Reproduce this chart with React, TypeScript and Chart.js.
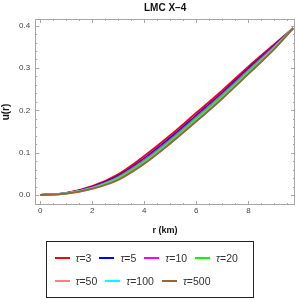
import React, { useEffect, useRef } from "react";
import { Chart, registerables } from "chart.js";

Chart.register(...registerables);

const titleText = "LMC X–4";
const xTitle = "r (km)";
const yTitle = "u(r)";

const radius = [0, 1, 2, 3, 4, 5, 6, 7, 8, 9, 9.72];
const tauLabels = ["3", "5", "10", "20", "50", "100", "500"];
const colors = ["#ff0000", "#0000ff", "#ff00ff", "#00ff00", "#ff8080", "#00ffff", "#996633"];

const uTau3 = [0, 0.005, 0.021, 0.049, 0.092, 0.141, 0.194, 0.247, 0.303, 0.356, 0.394];
const uTau5 = [0, 0.0045, 0.019, 0.045, 0.086, 0.135, 0.188, 0.241, 0.298, 0.353, 0.394];
const uTau10 = [0, 0.0042, 0.018, 0.043, 0.083, 0.131, 0.184, 0.238, 0.295, 0.351, 0.394];
const uTau20 = [0, 0.004, 0.017, 0.041, 0.08, 0.128, 0.181, 0.235, 0.292, 0.349, 0.394];
const uTau50 = [0, 0.0037, 0.016, 0.038, 0.076, 0.124, 0.176, 0.23, 0.288, 0.347, 0.394];
const uTau100 = [0, 0.0036, 0.0155, 0.037, 0.075, 0.123, 0.175, 0.229, 0.287, 0.346, 0.394];
const uTau500 = [0, 0.0035, 0.015, 0.036, 0.074, 0.122, 0.174, 0.228, 0.286, 0.345, 0.394];
const series = [uTau3, uTau5, uTau10, uTau20, uTau50, uTau100, uTau500];

const xTickValues = [0, 2, 4, 6, 8];
const yTickValues = [0, 0.1, 0.2, 0.3, 0.4];
const xMinorStep = 0.5;
const yMinorStep = 0.02;

const FONT = "'Liberation Sans', Arial, sans-serif";

const frameTicks = {
  id: "frameTicks",
  beforeDatasetsDraw(chart: any) {
    const { ctx, chartArea: a, scales } = chart;
    const x = scales.x;
    const y = scales.y;
    ctx.save();
    ctx.strokeStyle = "#a8a8a8";
    ctx.lineWidth = 1;
    ctx.strokeRect(Math.round(a.left) + 0.5, Math.round(a.top) + 0.5, Math.round(a.width) - 1, Math.round(a.height) - 1);
    ctx.beginPath();
    const xMin = x.min, xMax = x.max, yMin = y.min, yMax = y.max;
    for (let k = Math.ceil(xMin / xMinorStep); k * xMinorStep <= xMax; k++) {
      const v = k * xMinorStep;
      const major = xTickValues.some((t) => Math.abs(t - v) < 1e-9);
      const len = major ? 4 : 2;
      const px = Math.round(x.getPixelForValue(v)) + 0.5;
      ctx.moveTo(px, a.bottom);
      ctx.lineTo(px, a.bottom - len);
      ctx.moveTo(px, a.top);
      ctx.lineTo(px, a.top + len);
    }
    for (let k = Math.ceil(yMin / yMinorStep); k * yMinorStep <= yMax + 1e-9; k++) {
      const v = k * yMinorStep;
      const major = yTickValues.some((t) => Math.abs(t - v) < 1e-9);
      const len = major ? 4 : 2;
      const py = Math.round(y.getPixelForValue(v)) + 0.5;
      ctx.moveTo(a.left, py);
      ctx.lineTo(a.left + len, py);
      ctx.moveTo(a.right, py);
      ctx.lineTo(a.right - len, py);
    }
    ctx.stroke();
    ctx.restore();
  },
};

export default function App() {
  const canvasRef = useRef<HTMLCanvasElement | null>(null);

  useEffect(() => {
    if (!canvasRef.current) return;
    const datasets = series.map((vals, i) => ({
      label: "τ=" + tauLabels[i],
      data: vals.map((v, j) => ({ x: radius[j], y: v })),
      borderColor: colors[i],
      backgroundColor: colors[i],
      borderWidth: 2,
      pointRadius: 0,
      cubicInterpolationMode: "monotone" as const,
      fill: false,
      order: series.length - i,
    }));
    const chart = new Chart(canvasRef.current, {
      type: "line",
      data: { datasets },
      plugins: [frameTicks],
      options: {
        animation: false,
        responsive: false,
        layout: { padding: { left: 0, right: 5, top: 0, bottom: 62.6 } },
        plugins: { legend: { display: false }, tooltip: { enabled: false }, title: { display: false } },
        scales: {
          x: {
            type: "linear",
            position: "bottom",
            min: -0.19,
            max: 9.79,
            afterBuildTicks: (s: any) => {
              s.ticks = xTickValues.map((v) => ({ value: v }));
            },
            ticks: { padding: 1, color: "#444", font: { family: FONT, size: 8 }, callback: (v: any) => String(v), maxRotation: 0 },
            grid: { display: false, drawTicks: false },
            border: { display: false },
            title: { display: true, text: xTitle, color: "#111", font: { family: FONT, size: 9, weight: "bold" }, padding: { top: 9, bottom: 1 } },
          },
          xTop: {
            type: "linear",
            position: "top",
            min: -0.19,
            max: 9.79,
            ticks: { display: false },
            grid: { display: false, drawTicks: false },
            border: { display: false },
            title: { display: true, text: titleText, color: "#111", font: { family: FONT, size: 10, weight: "bold" }, padding: { top: 2, bottom: 5 } },
          },
          y: {
            type: "linear",
            min: -0.0235,
            max: 0.4155,
            afterBuildTicks: (s: any) => {
              s.ticks = yTickValues.map((v) => ({ value: v }));
            },
            ticks: { padding: 5, color: "#444", font: { family: FONT, size: 8 }, callback: (v: any) => Number(v).toFixed(1) },
            grid: { display: false, drawTicks: false },
            border: { display: false },
            title: { display: true, text: yTitle, color: "#111", font: { family: FONT, size: 10, weight: "bold" }, padding: { top: 0.6, bottom: 1.5 } },
          },
        },
      },
    } as any);
    return () => chart.destroy();
  }, []);

  const rows: number[][] = [];
  for (let i = 0; i < tauLabels.length; i += 4) rows.push(tauLabels.slice(i, i + 4).map((_, k) => i + k));

  return (
    <div style={{ position: "absolute", left: 0, top: 0, width: 300, height: 300, background: "#fff" }}>
      <canvas ref={canvasRef} width={300} height={300} style={{ display: "block", width: 300, height: 300 }} />
      <div
        style={{
          position: "absolute",
          left: 46,
          top: 241,
          width: 208,
          height: 57,
          border: "1.5px solid #222",
          boxSizing: "border-box",
          fontFamily: FONT,
          fontSize: 10.5,
          color: "#333",
          paddingLeft: 7.5,
        }}
      >
        {rows.map((row, ri) => (
          <div key={ri} style={{ display: "flex", alignItems: "center", height: 23, marginTop: ri === 0 ? 4.3 : 0 }}>
            {row.map((i) => (
              <div key={i} style={{ display: "flex", alignItems: "center", marginRight: 8 }}>
                <span style={{ display: "inline-block", width: 15, height: 2, background: colors[i], marginRight: 6 }} />
                <span style={{ whiteSpace: "nowrap" }}>
                  <i>τ</i>={tauLabels[i]}
                </span>
              </div>
            ))}
          </div>
        ))}
      </div>
    </div>
  );
}
